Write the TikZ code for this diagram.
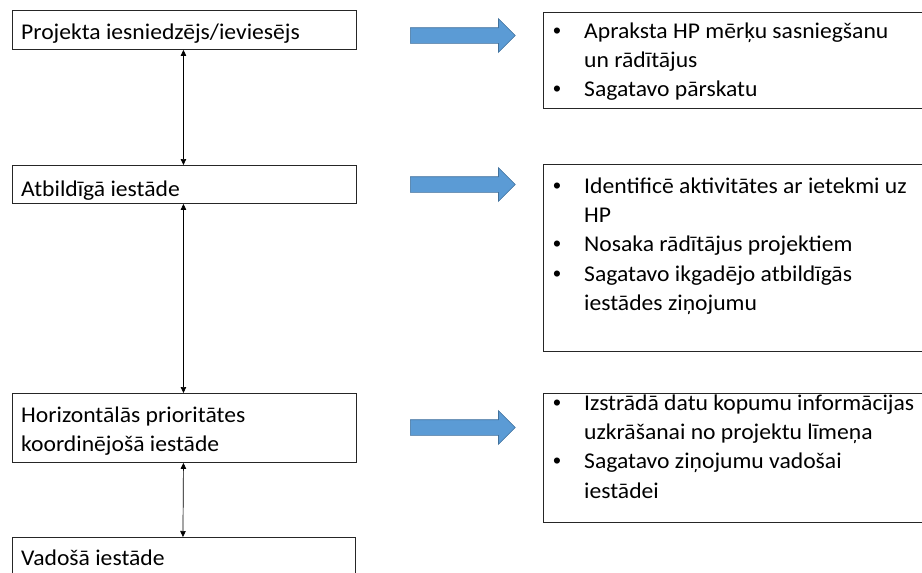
\documentclass[tikz,border=0pt]{standalone}
\usepackage{fontspec}
\setmainfont[FakeStretch=1.05]{Carlito}
\newfontfamily\bulletfont{Liberation Sans}
\usetikzlibrary{arrows.meta,shapes.arrows}
\definecolor{arrowblue}{HTML}{5B9BD5}
\definecolor{arrowedge}{HTML}{41719C}
\definecolor{boxedge}{HTML}{262626}
\newcommand{\bul}{{\bulletfont •}}
\tikzset{
  lbox/.style={draw=boxedge, line width=0.9pt, rectangle, inner sep=0pt, anchor=north west},
  txt/.style={inner sep=0pt, font=\fontsize{22.5}{29.3}\selectfont},
  bigarrow/.style={single arrow, fill=arrowblue, draw=arrowedge, line width=0.6pt,
    minimum height=105pt, inner xsep=0pt, inner ysep=7.5pt, single arrow head extend=9pt,
    single arrow tip angle=90, anchor=west},
  link/.style={{Triangle[length=6pt,width=5.5pt]}-{Triangle[length=6pt,width=5.5pt]}, line width=0.7pt, black},
}
\begin{document}
\begin{tikzpicture}[x=1pt,y=-1pt]
\clip (0,0) rectangle (922,573);
\fill[white] (0,0) rectangle (922,573);
% left boxes
\node[lbox, minimum width=344pt, minimum height=39pt] (b1) at (12,10) {};
\node[lbox, minimum width=344pt, minimum height=38pt] (b2) at (12,165) {};
\node[lbox, minimum width=344pt, minimum height=69pt] (b3) at (12,393) {};
\node[lbox, minimum width=343pt, minimum height=39pt] (b4) at (12,537) {};
\node[txt, anchor=base west] (t1) at (21,39) {Projekta iesniedzējs/ieviesējs};
\node[txt, anchor=base west] (t2) at (21,196) {Atbildīgā iestāde};
\node[txt, anchor=north west] (t3) at (21,401.5) {\begin{tabular}{@{}l@{}}Horizontālās prioritātes\\koordinējošā iestāde\end{tabular}};
\node[txt, anchor=base west] (t4) at (21,565) {Vadošā iestāde};
% connectors
\draw[link] ([xshift=-1pt]b1.south) -- ([xshift=-1pt]b2.north);
\draw[link] ([xshift=-1pt]b2.south) -- ([xshift=-1pt]b3.north);
\draw[link] ([xshift=-1pt]b3.south) -- ([xshift=-1pt]b4.north);
% blue arrows
\node[bigarrow] (a1) at (410,35.5) {};
\node[bigarrow] (a2) at (410,184.5) {};
\node[bigarrow] (a3) at (410,427.5) {};
% right boxes
\node[lbox, minimum width=400pt, minimum height=96pt] (r1) at (543,12) {};
\node[lbox, minimum width=400pt, minimum height=187pt] (r2) at (543,164) {};
\node[lbox, minimum width=400pt, minimum height=129pt] (r3) at (543,393) {};
\node[txt, anchor=north west] (s1) at (553,17.5) {\begin{tabular}{@{}p{31pt}@{}l@{}}
\bul&Apraksta HP mērķu sasniegšanu\\
&un rādītājus\\
\bul&Sagatavo pārskatu\end{tabular}};
\node[txt, anchor=north west] (s2) at (553,172.5) {\begin{tabular}{@{}p{31pt}@{}l@{}}
\bul&Identificē aktivitātes ar ietekmi uz\\
&HP\\
\bul&Nosaka rādītājus projektiem\\
\bul&Sagatavo ikgadējo atbildīgās\\
&iestādes ziņojumu\end{tabular}};
\node[txt, anchor=north west] (s3) at (553,389.5) {\begin{tabular}{@{}p{31pt}@{}l@{}}
\bul&Izstrādā datu kopumu informācijas\\
&uzkrāšanai no projektu līmeņa\\
\bul&Sagatavo ziņojumu vadošai\\
&iestādei\end{tabular}};
\end{tikzpicture}
\end{document}
